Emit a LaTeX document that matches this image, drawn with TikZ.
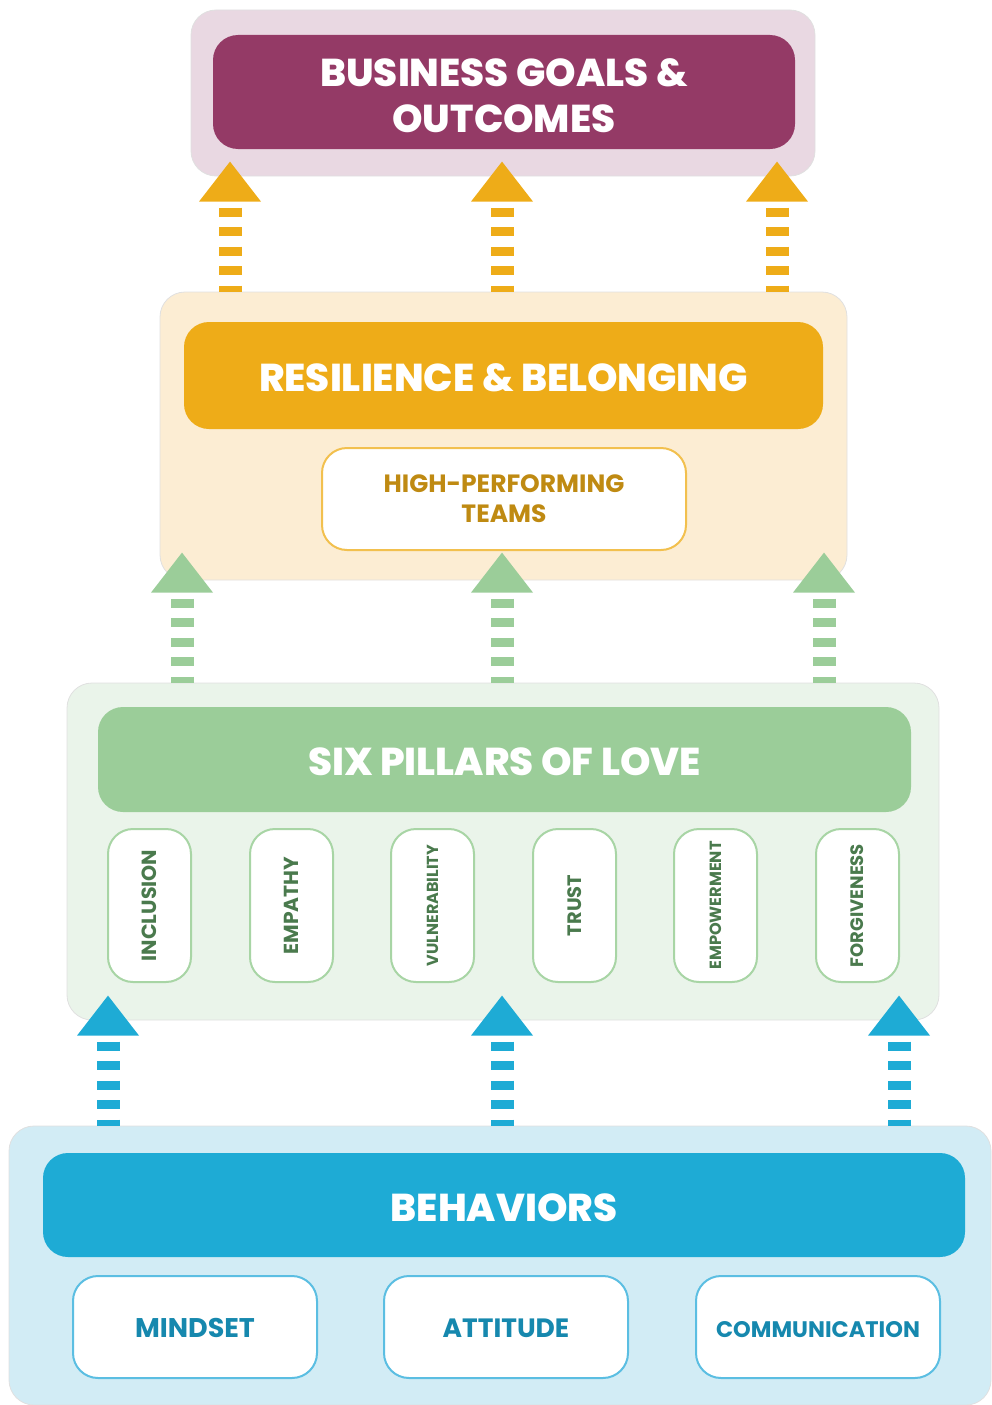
\documentclass[tikz,border=0pt]{standalone}
\usepackage{fontspec}
\setmainfont{Poppins}
\newfontfamily\heavyfont{Poppins ExtraBold}
\usetikzlibrary{calc}
\definecolor{plum2}{HTML}{943a66}
\definecolor{plum9}{HTML}{e9d8e2}
\definecolor{gold2}{HTML}{bf8a12}
\definecolor{gold4}{HTML}{eeac18}
\definecolor{gold6}{HTML}{f2c04e}
\definecolor{gold9}{HTML}{fcedd3}
\definecolor{green2}{HTML}{4a7a4d}
\definecolor{green4}{HTML}{9bcd99}
\definecolor{green6}{HTML}{a8d5a5}
\definecolor{green9}{HTML}{eaf4ea}
\definecolor{blue2}{HTML}{1688ae}
\definecolor{blue4}{HTML}{1eabd5}
\definecolor{blue6}{HTML}{5bbee2}
\definecolor{blue9}{HTML}{d2ecf5}

% dashed arrow rising out of the top edge of a panel
\newcommand{\liftarrow}[3]{%
  \coordinate (tip) at ($(#2,0 |- #3.north)+(0,-130)$);
  \fill[#1] ($(tip)+(-31,40)$) -- (tip) -- ($(tip)+(31,40)$) -- cycle;
  \draw[#1, line width=23pt, dash pattern=on 9pt off 10.5pt] ($(tip)+(0,46)$) -- (#3.north -| tip);
}

\begin{document}
\begin{tikzpicture}[x=1pt, y=-1pt, align=center,
  panel/.style={draw=black!12, line width=0.8pt, rounded corners=25pt, inner sep=0pt},
  bar/.style={rounded corners=25pt, inner sep=0pt},
  bartext/.style={yshift=-2.5pt, text=white, align=center, font=\heavyfont\fontsize{38.8}{46}\selectfont},
  card/.style={draw, line width=2pt, fill=white, rounded corners=25pt, inner sep=0pt},
  pillar/.style={card, draw=green6, minimum width=83pt, minimum height=153pt, text=green2}]
\useasboundingbox (0,0) rectangle (992,1405);

% business goals
\node[panel, fill=plum9, minimum width=624pt, minimum height=166pt] (goals) at (503,93) {};
\node[bar, fill=plum2, minimum width=582pt, minimum height=114pt,
  label={[bartext, yshift=-1pt]center:BUSINESS GOALS \&\\OUTCOMES}] (goalsbar) at (504,92) {};

% resilience
\node[panel, fill=gold9, minimum width=687pt, minimum height=288pt] (res) at (503.5,436) {};
\node[bar, fill=gold4, minimum width=639pt, minimum height=107pt,
  label={[bartext]center:RESILIENCE \& BELONGING}] (resbar) at (503.5,375.5) {};
\node[card, draw=gold6, minimum width=364pt, minimum height=102pt, text=gold2,
  font=\bfseries\fontsize{25}{30}\selectfont] (teams) at (504,499) {HIGH-PERFORMING\\TEAMS};

% six pillars
\node[panel, fill=green9, minimum width=872pt, minimum height=337pt] (love) at (503,851.5) {};
\node[bar, fill=green4, minimum width=813pt, minimum height=105pt,
  label={[bartext]center:SIX PILLARS OF LOVE}] (lovebar) at (504.5,759.5) {};
\foreach \x/\sz/\word [count=\i] in {149.5/20.5/INCLUSION, 291.5/20.3/EMPATHY, 432.5/16/VULNERABILITY,
    574.5/19.4/TRUST, 715.5/16.2/EMPOWERMENT, 857.5/18/FORGIVENESS}
  \node[pillar] (p\i) at (\x,905.5) {\rotatebox{90}{\bfseries\fontsize{\sz}{\sz}\selectfont\word}};

% behaviors
\node[panel, fill=blue9, minimum width=982pt, minimum height=279pt] (beh) at (500,1265.5) {};
\node[bar, fill=blue4, minimum width=922pt, minimum height=104pt,
  label={[bartext]center:BEHAVIORS}] (behbar) at (504,1205) {};
\foreach \x/\sz/\word in {195/27/MINDSET, 506/26.5/ATTITUDE, 818/22.5/COMMUNICATION}
  \node[card, draw=blue6, minimum width=244pt, minimum height=102pt, text=blue2, text height=22pt,
    font=\bfseries\fontsize{\sz}{30}\selectfont] (\word) at (\x,1327) {\word};

% arrows between the levels
\foreach \x in {230,502,777} {\liftarrow{gold4}{\x}{res}}
\foreach \x in {182,502,824} {\liftarrow{green4}{\x}{love}}
\foreach \x in {108,502,899} {\liftarrow{blue4}{\x}{beh}}
\end{tikzpicture}
\end{document}
